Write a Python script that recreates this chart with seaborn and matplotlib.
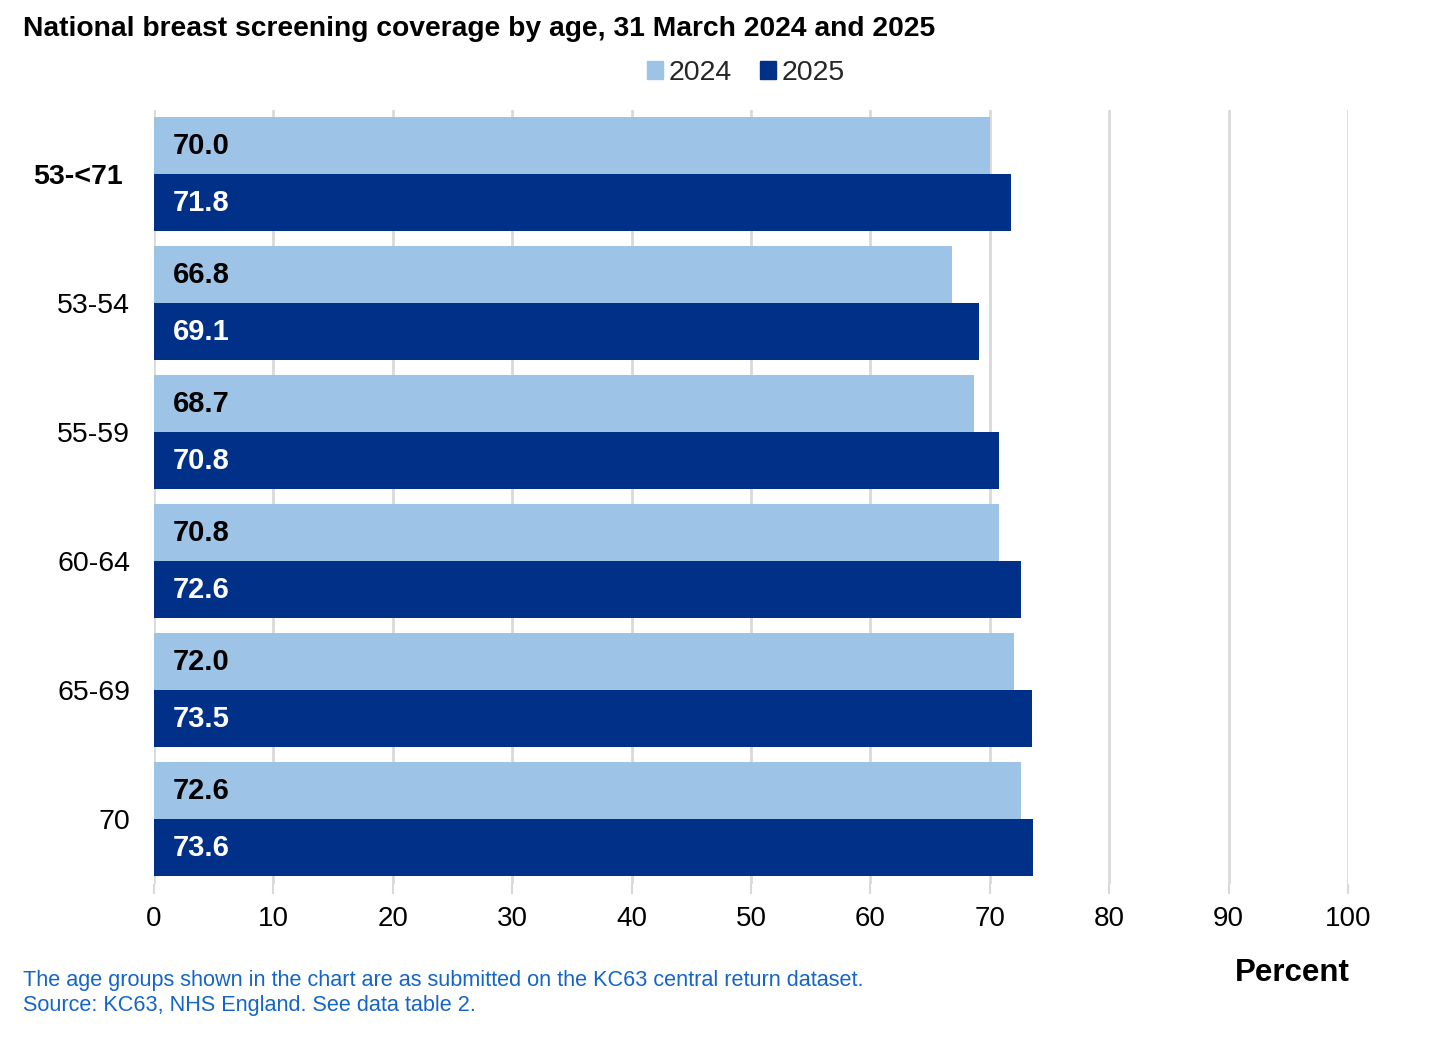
import numpy as np
import pandas as pd
import matplotlib
matplotlib.use("Agg")
import matplotlib.pyplot as plt
import seaborn as sns

# Data
AGE_GROUPS = ['53-<71', '53-54', '55-59', '60-64', '65-69', '70']
YEARS = ['2024', '2025']
COVERAGE_2024 = [70.0, 66.8, 68.7, 70.8, 72.0, 72.6]
COVERAGE_2025 = [71.8, 69.1, 70.8, 72.6, 73.5, 73.6]
X_TICKS = [0, 10, 20, 30, 40, 50, 60, 70, 80, 90, 100]

LIGHT_BLUE = '#9DC3E6'
DARK_BLUE = '#003087'
FOOTER_BLUE = '#1565C8'

TITLE = 'National breast screening coverage by age, 31 March 2024 and 2025'
FOOTNOTE = ('The age groups shown in the chart are as submitted on the KC63 central return dataset.\n'
            'Source: KC63, NHS England. See data table 2.')


def build_frame():
    df = pd.DataFrame({
        'age': AGE_GROUPS * 2,
        'year': [YEARS[0]] * len(AGE_GROUPS) + [YEARS[1]] * len(AGE_GROUPS),
        'coverage': COVERAGE_2024 + COVERAGE_2025,
    })
    return df


def plot_chart():
    df = build_frame()

    sns.set_theme(style='white')
    plt.rcParams['font.family'] = ['Liberation Sans', 'DejaVu Sans']

    fig = plt.figure(figsize=(14.46, 10.44), dpi=100)
    ax = fig.add_axes([0.1065, 0.1537, 0.8257, 0.7414])

    sns.barplot(data=df, y='age', x='coverage', hue='year', order=AGE_GROUPS,
                hue_order=YEARS, palette=[LIGHT_BLUE, DARK_BLUE], orient='h',
                width=0.884, gap=0, saturation=1, ax=ax, legend=False,
                edgecolor='none', linewidth=0)

    ax.set_xlim(0, 100)
    ax.set_ylim(len(AGE_GROUPS) - 0.5, -0.5)
    ax.set_xticks(X_TICKS)
    ax.set_xticklabels([str(t) for t in X_TICKS])
    ax.grid(axis='x', color='#D9D9D9', linewidth=2)
    ax.set_axisbelow(True)
    for s in ax.spines.values():
        s.set_visible(False)

    ax.tick_params(axis='x', length=7, width=1.5, color='#D9D9D9',
                   labelsize=20, pad=9, labelcolor='black', bottom=True)
    ax.tick_params(axis='y', length=0, labelsize=20.5, pad=17, labelcolor='black')
    ax.set_xlabel('')
    ax.set_ylabel('')

    first = ax.get_yticklabels()[0]
    first.set_fontweight('bold')
    first.set_x(-8 / 1194)

    # value labels inside the bars, near the start
    text_colours = ['black', 'white']
    for container, colour in zip(ax.containers, text_colours):
        for bar in container:
            val = bar.get_width()
            ax.annotate(f'{val:.1f}', xy=(0, bar.get_y() + bar.get_height() / 2),
                        xytext=(13.5, 0), textcoords='offset points',
                        ha='left', va='center', fontsize=21, fontweight='bold',
                        color=colour)

    # legend
    handles = [plt.Rectangle((0, 0), 1, 1, color=c) for c in [LIGHT_BLUE, DARK_BLUE]]
    fig.legend(handles, YEARS, loc='center', bbox_to_anchor=(0.516, 0.930),
               ncol=2, frameon=False, fontsize=20.5, handlelength=0.55,
               handleheight=0.55, handletextpad=0.2, columnspacing=1.0)

    fig.text(23 / 1446, 1 - 29 / 1044, TITLE, ha='left', va='center',
             fontsize=20.3, fontweight='bold', color='black')
    fig.text(1350 / 1446, 1 - 973 / 1044, 'Percent', ha='right', va='center',
             fontsize=22.5, fontweight='bold', color='black')
    fig.text(23 / 1446, 1 - 993 / 1044, FOOTNOTE, ha='left', va='center',
             fontsize=15.6, color=FOOTER_BLUE, linespacing=1.2)

    fig.savefig('out.png', dpi=100)
    plt.close(fig)


if __name__ == "__main__":
    plot_chart()
